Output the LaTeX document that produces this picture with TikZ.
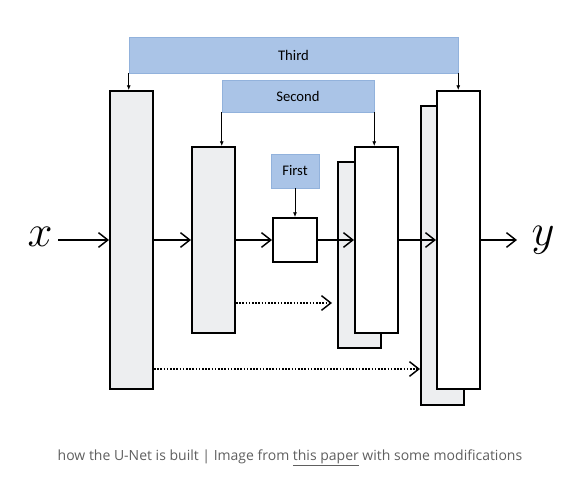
\documentclass[tikz,border=0pt]{standalone}
\usepackage{fontspec}
\setmainfont{Carlito}
\newfontfamily\capfont{Open Sans}
\usetikzlibrary{arrows.meta}
\definecolor{barblue}{RGB}{170,196,231}
\definecolor{barline}{RGB}{146,178,220}
\definecolor{blockgray}{RGB}{237,238,240}
\definecolor{capgray}{RGB}{95,95,95}
\tikzset{
  block/.style={draw, line width=1.5pt, fill=blockgray, minimum width=32.25pt, inner sep=0pt},
  outblock/.style={block, fill=white},
  bar/.style={draw=barline, fill=barblue, inner sep=0pt, font=\fontsize{11}{12}\selectfont},
  flow/.style={line width=1.1pt, -{Straight Barb[length=7pt,width=11pt,line width=1.1pt]}},
  skip/.style={flow, dash pattern=on 1.2pt off 1.2pt, line width=1.5pt},
  down/.style={line width=0.6pt, -{Latex[length=3.5pt,width=3pt]}},
  io/.style={font=\Huge, inner sep=0pt}
}
\begin{document}
\begin{tikzpicture}[x=0.75pt, y=-0.75pt]
\useasboundingbox (0,0) rectangle (583,484);
\node[bar, minimum width=246.75pt, minimum height=27pt] (third) at (293.5,55) {Third};
\node[bar, minimum width=114pt, minimum height=24pt] (second) at (298,96) {Second};
\node[bar, minimum width=36pt, minimum height=25.5pt] (first) at (295,171) {First};

\node[block, minimum height=223.5pt] (l1) at (131.5,240) {};
\node[block, minimum height=139.5pt] (l2) at (213.5,240) {};
\node[outblock, minimum width=33pt, minimum height=33pt] (sq) at (295,240) {};
\node[block, minimum height=139.5pt] (r2b) at (359.5,255) {};
\node[outblock, minimum height=139.5pt] (r2) at (376.5,240) {};
\node[block, minimum height=224.25pt] (r1b) at (442.5,256) {};
\node[outblock, minimum height=223.5pt] (r1) at (458.5,240) {};

\node[io] (x) at (40,237) {\scalebox{1.35}{$x$}};
\node[io] (y) at (543,240) {\scalebox{1.35}{$y$}};

\draw[flow] (58,240) coordinate (xin) -- (l1.west |- xin);
\draw[flow] (l1.east |- xin) -- (l2.west |- xin);
\draw[flow] (l2.east |- xin) -- (sq.west);
\draw[flow] (sq.east) -- (r2.west |- xin);
\draw[flow] (r2.east |- xin) -- (r1.west |- xin);
\draw[flow] (r1.east |- xin) -- (517,240);

\draw[skip] (l2.east |- 0,303) coordinate (s2) -- ([xshift=-3.75pt]r2b.west |- s2);
\draw[skip] (l1.east |- 0,369) coordinate (s1) -- (r1b.west |- s1);

\draw[down] (third.south west) -- (third.south west |- l1.north);
\draw[down] (third.south east) -- (third.south east |- r1.north);
\draw[down] (second.south west) -- (second.south west |- l2.north);
\draw[down] (second.south east) -- (second.south east |- r2.north);
\draw[down] (first.south) -- (sq.north);

\node[font=\capfont\fontsize{10.5}{12}\selectfont, text=capgray] (cap) at (290,458)
  {how the U-Net is built | Image from \underline{this paper} with some modifications};
\end{tikzpicture}
\end{document}
